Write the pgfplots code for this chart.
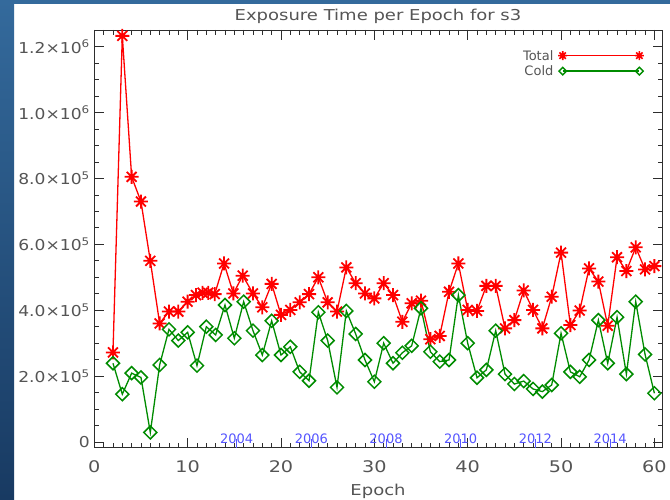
\documentclass[border=0pt]{standalone}
\usepackage{pgfplots}
\pgfplotsset{compat=1.18}
\usepackage{pgfplotstable}
\usepackage{fontspec}
\setmainfont{DejaVu Sans}
\newfontfamily\widefont{DejaVu Sans}[FakeStretch=1.2]
\newfontfamily\tickfont{DejaVu Sans}[FakeStretch=1.14]
\definecolor{txtgray}{RGB}{85,85,85}
\definecolor{axgray}{RGB}{45,45,45}
\definecolor{cgreen}{RGB}{0,140,0}
\definecolor{cred}{RGB}{255,0,0}
\definecolor{yrblue}{RGB}{85,85,255}
\definecolor{bgtop}{RGB}{52,106,156}
\definecolor{bgbot}{RGB}{24,58,98}

\pgfdeclareplotmark{star8}{%
  \pgfpathmoveto{\pgfqpoint{0pt}{\pgfplotmarksize}}\pgfpathlineto{\pgfqpoint{0pt}{-\pgfplotmarksize}}%
  \pgfpathmoveto{\pgfqpoint{\pgfplotmarksize}{0pt}}\pgfpathlineto{\pgfqpoint{-\pgfplotmarksize}{0pt}}%
  \pgfpathmoveto{\pgfqpoint{.707\pgfplotmarksize}{.707\pgfplotmarksize}}\pgfpathlineto{\pgfqpoint{-.707\pgfplotmarksize}{-.707\pgfplotmarksize}}%
  \pgfpathmoveto{\pgfqpoint{.707\pgfplotmarksize}{-.707\pgfplotmarksize}}\pgfpathlineto{\pgfqpoint{-.707\pgfplotmarksize}{.707\pgfplotmarksize}}%
  \pgfusepathqstroke}
\pgfdeclareplotmark{dia}{%
  \pgfpathmoveto{\pgfqpoint{0pt}{\pgfplotmarksize}}\pgfpathlineto{\pgfqpoint{\pgfplotmarksize}{0pt}}%
  \pgfpathlineto{\pgfqpoint{0pt}{-\pgfplotmarksize}}\pgfpathlineto{\pgfqpoint{-\pgfplotmarksize}{0pt}}%
  \pgfpathclose\pgfusepathqstroke}

\pgfplotstableread{
epoch total
2 2.72e5
3 12.33e5
4 8.05e5
5 7.30e5
6 5.50e5
7 3.60e5
8 3.96e5
9 3.96e5
10 4.26e5
10.9 4.46e5
11.6 4.53e5
12.2 4.53e5
12.9 4.49e5
13.9 5.42e5
14.9 4.51e5
15.9 5.05e5
17 4.51e5
18 4.09e5
19 4.80e5
20 3.86e5
21 4.01e5
22 4.24e5
23 4.49e5
24 5.00e5
25 4.24e5
26 3.96e5
27 5.30e5
28 4.82e5
29 4.51e5
30 4.36e5
31 4.82e5
32 4.46e5
33 3.65e5
34 4.21e5
35 4.29e5
36 3.12e5
37 3.22e5
38 4.56e5
39 5.42e5
40 4.01e5
41 3.98e5
42 4.74e5
43 4.74e5
44 3.45e5
45 3.70e5
46 4.60e5
47 4.01e5
48 3.45e5
49 4.41e5
50 5.75e5
51 3.55e5
52 3.99e5
53 5.27e5
54 4.87e5
55 3.53e5
56 5.61e5
57 5.19e5
58 5.91e5
59 5.24e5
60 5.34e5
}\totaltab

\pgfplotstableread{
epoch cold
2 2.39e5
3 1.45e5
4 2.09e5
5 1.96e5
6 0.29e5
7 2.34e5
8 3.42e5
9 3.08e5
10 3.33e5
11 2.32e5
12 3.50e5
13 3.25e5
14 4.16e5
15 3.15e5
16 4.26e5
17 3.38e5
18 2.64e5
19 3.68e5
20 2.64e5
21 2.89e5
22 2.13e5
23 1.86e5
24 3.94e5
25 3.08e5
26 1.66e5
27 3.98e5
28 3.28e5
29 2.49e5
30 1.83e5
31 3.00e5
32 2.39e5
33 2.71e5
34 2.92e5
35 4.06e5
36 2.74e5
37 2.44e5
38 2.49e5
39 4.46e5
40 3.00e5
41 1.95e5
42 2.19e5
43 3.38e5
44 2.06e5
45 1.76e5
46 1.85e5
47 1.61e5
48 1.53e5
49 1.73e5
50 3.30e5
51 2.13e5
52 1.98e5
53 2.49e5
54 3.70e5
55 2.39e5
56 3.79e5
57 2.06e5
58 4.26e5
59 2.66e5
60 1.48e5
}\coldtab

\begin{document}
\begin{tikzpicture}
% background
\fill[white] (0pt,0pt) rectangle (670pt,499pt);
\shade[top color=bgtop, bottom color=bgbot] (0pt,0pt) rectangle (14pt,499pt);
\fill[bgtop] (0pt,495pt) rectangle (670pt,499pt);

\begin{axis}[
  at={(94.3pt,51.3pt)}, anchor=south west,
  scale only axis, width=568.4pt, height=417.7pt,
  xmin=0, xmax=60.89, ymin=-17300, ymax=1250800,
  axis line style={axgray, line width=0.9pt},
  tick style={axgray, line width=0.9pt},
  tick align=inside, xtick pos=both, ytick pos=both,
  major tick length=10pt, minor tick length=5pt,
  xtick={0,10,...,60}, minor x tick num=9,
  ytick={0,200000,400000,600000,800000,1000000,1200000}, minor y tick num=3,
  yticklabels={0, {2.0×10\textsuperscript{5}}, {4.0×10\textsuperscript{5}}, {6.0×10\textsuperscript{5}}, {8.0×10\textsuperscript{5}}, {1.0×10\textsuperscript{6}}, {1.2×10\textsuperscript{6}}},
  /pgf/number format/assume math mode=true,
  xticklabel style={font=\widefont\fontsize{16}{16}\selectfont, text=txtgray, yshift=-9pt},
  yticklabel style={font=\tickfont\fontsize{15}{15}\selectfont, text=txtgray, xshift=-1pt},
  scaled y ticks=false,
  clip=false,
  axis background/.style={fill=white},
]
\addplot[cred, line width=1.3pt, mark=star8, mark size=7pt, mark options={line width=1.8pt}] table[x=epoch, y=total] {\totaltab};
\addplot[cgreen, line width=1.3pt, mark=dia, mark size=6.5pt, mark options={line width=1.5pt}] table[x=epoch, y=cold] {\coldtab};

% legend
\addplot[cred, line width=1.4pt, mark=star8, mark size=4.5pt, mark options={line width=1.6pt}, forget plot] coordinates {(50.18,1173000) (58.39,1173000)};
\addplot[cgreen, line width=1.4pt, mark=dia, mark size=3.8pt, mark options={line width=1.4pt}, forget plot] coordinates {(50.18,1126000) (58.39,1126000)};
\node[anchor=east, text=txtgray, font=\fontsize{13}{13}\selectfont, inner sep=0pt] at (axis cs:49.2,1173000) {Total};
\node[anchor=east, text=txtgray, font=\fontsize{13}{13}\selectfont, inner sep=0pt] at (axis cs:49.2,1126000) {Cold};

% year labels
\foreach \e/\yr in {15.25/2004, 23.25/2006, 31.25/2008, 39.25/2010, 47.25/2012, 55.25/2014}{
  \edef\tmp{\noexpand\node[text=yrblue, font=\noexpand\fontsize{13}{13}\noexpand\selectfont, inner sep=0pt] at (axis cs:\e,9000) {\yr};
  \noexpand\draw[yrblue, line width=1pt] (axis cs:\e,-17300) -- ++(0,3.5pt);}
  \tmp
}
\end{axis}

\node[text=txtgray, font=\widefont\fontsize{15}{15}\selectfont] at (378pt,483pt) {Exposure Time per Epoch for s3};
\node[text=txtgray, font=\widefont\fontsize{15}{15}\selectfont, anchor=base] at (378pt,4pt) {Epoch};

\pgfresetboundingbox
\path (0pt,0pt) rectangle (670pt,499pt);
\end{tikzpicture}
\end{document}
